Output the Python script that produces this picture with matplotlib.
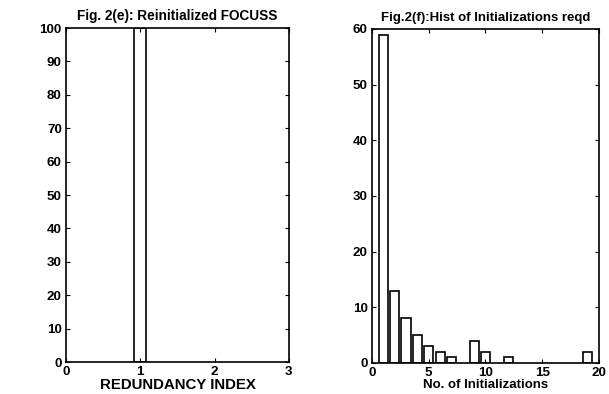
import numpy as np
import matplotlib
matplotlib.use('Agg')
import matplotlib.pyplot as plt

# ----------------------------
# DATA
# ----------------------------
redundancy_centers = [1.0]
redundancy_counts = [100]

init_centers = [1, 2, 3, 4, 5, 6, 7, 8, 9, 10, 11, 12, 13, 14, 15, 16, 17, 18, 19]
init_counts = [59, 13, 8, 5, 3, 2, 1, 0, 4, 2, 0, 1, 0, 0, 0, 0, 0, 0, 2]
# ----------------------------

plt.rcParams['font.family'] = ['Liberation Sans', 'DejaVu Sans']
plt.rcParams['font.weight'] = 'bold'
plt.rcParams['font.size'] = 9.6

fig = plt.figure(figsize=(6.09, 3.94), dpi=100)
ax1 = fig.add_axes([0.1084, 0.0812, 0.366, 0.8477])
ax2 = fig.add_axes([0.6108, 0.0787, 0.3727, 0.8477])

# Fig 2(e)
ax1.bar(redundancy_centers, redundancy_counts, width=0.16,
        facecolor='white', edgecolor='black', linewidth=1.2)
ax1.set_xlim(0, 3)
ax1.set_ylim(0, 100)
ax1.set_xticks([0, 1, 2, 3])
ax1.set_yticks(np.arange(0, 101, 10))
ax1.set_title("Fig. 2(e): Reinitialized FOCUSS", fontsize=9.8, fontweight='bold', pad=6)
ax1.set_xlabel("REDUNDANCY INDEX", fontsize=10.8, fontweight='bold', labelpad=0)

# Fig 2(f)
nz = [(c, n) for c, n in zip(init_centers, init_counts) if n > 0]
ax2.bar([c for c, n in nz], [n for c, n in nz], width=0.8,
        facecolor='white', edgecolor='black', linewidth=1.2)
ax2.set_xlim(0, 20)
ax2.set_ylim(0, 60)
ax2.set_xticks([0, 5, 10, 15, 20])
ax2.set_yticks(np.arange(0, 61, 10))
ax2.set_title("Fig.2(f):Hist of Initializations reqd", fontsize=9.5, fontweight='bold', pad=6)
ax2.set_xlabel("No. of Initializations", fontsize=9.5, fontweight='bold', labelpad=0)

for ax in (ax1, ax2):
    ax.tick_params(direction='in', top=True, right=True, length=3, width=0.8, pad=3)
    for s in ax.spines.values():
        s.set_linewidth(1.2)

fig.savefig("out.png", dpi=100)
